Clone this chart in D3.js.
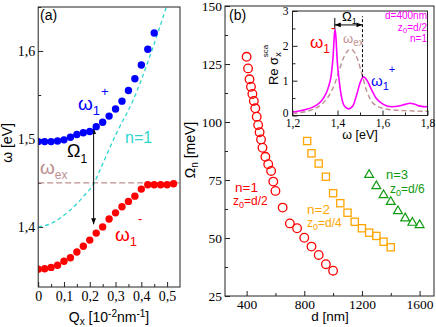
<!DOCTYPE html>
<html>
<head>
<meta charset="utf-8">
<script src="https://cdn.jsdelivr.net/npm/d3@7"></script>
<style>
body{margin:0;background:#fff;}
text{font-family:"Liberation Sans",Arial,sans-serif;}
.tick text{font-family:"Liberation Serif","Times New Roman",serif;}
</style>
</head>
<body>
<div class="c_chart"></div>
<script>
/* DATA
------------------------------------------------------
*/
// panel (a) : polariton branches
const qPlus = [0,0.025,0.05,0.075,0.1,0.125,0.15,0.175,0.2,0.225,0.25,0.275,0.3,0.325,0.35,0.375,0.4,0.425,0.45];
const omegaPlus = [1.497,1.497,1.497,1.4976,1.499,1.502,1.505,1.507,1.5085,1.514,1.519,1.526,1.534,1.543,1.555,1.5685,1.584,1.602,1.6205];
const qMinus = [0,0.025,0.05,0.075,0.1,0.125,0.15,0.175,0.2,0.225,0.25,0.275,0.3,0.325,0.35,0.375,0.4,0.425,0.45,0.475,0.5,0.525];
const omegaMinus = [1.352,1.3525,1.354,1.3565,1.361,1.365,1.3715,1.378,1.385,1.393,1.4,1.409,1.416,1.423,1.429,1.435,1.443,1.448,1.448,1.448,1.448,1.449];
// bare n=1 mode
const qBare = [0,0.046,0.11,0.175,0.217,0.24,0.304,0.369,0.433,0.497];
const omegaBare = [1.4,1.4034,1.4156,1.4345,1.45,1.465,1.5067,1.5446,1.5939,1.65];
const omegaEx = 1.45;
const splitQ = 0.215, splitTop = 1.5125, splitBottom = 1.403;

// panel (b) : Rabi splitting vs thickness
const dN1 = [400,410,420,430,440,450,460,470,480,490,500,510,530,550,570,585,600,650,700,750,800,850,900,950,1000];
const rabiN1 = [128.1,123.1,118.4,115.2,112.1,109.1,105.9,102.3,98.7,95.6,92.5,88.9,85.0,81.8,78.9,74.3,70.3,63.1,56.3,54.2,50.1,46.3,42.7,38.7,35.9];
const dN2 = [820,850,900,950,1000,1050,1100,1150,1200,1250,1300,1350,1400];
const rabiN2 = [91.8,86.5,82.1,76.4,69.3,65.0,60.9,57.0,54.2,52.3,50.9,48.4,46.0];
const dN3 = [1250,1300,1350,1400,1450,1500,1550,1600];
const rabiN3 = [77.2,72.4,68.5,65.6,61.6,58.5,56.6,55.6];

// inset : Re sigma spectrum
const wSpec = [1.2,1.23,1.263,1.29,1.31,1.337,1.359,1.372,1.38,1.386,1.389,1.393,1.399,1.408,1.419,1.433,1.45,1.468,1.485,1.5,1.515,1.532,1.552,1.574,1.604,1.641,1.678,1.7,1.722,1.744,1.767,1.8];
const sigmaSpec = [0.10,0.13,0.18,0.24,0.31,0.49,0.80,1.16,1.65,2.30,2.47,2.25,1.55,0.97,0.49,0.25,0.19,0.27,0.59,0.93,1.11,1.00,0.73,0.48,0.32,0.25,0.28,0.32,0.35,0.32,0.27,0.25];
const wEx = [1.2,1.25,1.3,1.33,1.36,1.39,1.41,1.43,1.45,1.46,1.47,1.49,1.51,1.53,1.55,1.58,1.62,1.7,1.8];
const sigmaEx = [0.06,0.10,0.20,0.32,0.55,0.95,1.35,1.70,1.88,1.90,1.86,1.60,1.15,0.70,0.42,0.26,0.18,0.14,0.12];
const peakMinus = 1.388, peakPlus = 1.511;

// ticks
const ticksAy = [1.4,1.5,1.6], minorAy = [1.35,1.45,1.55,1.65];
const ticksAx = [0,0.1,0.2,0.3,0.4,0.5], minorAx = [0.05,0.15,0.25,0.35,0.45];
const ticksBy = [25,50,75,100,125,150], minorBy = [37.5,62.5,87.5,112.5,137.5];
const ticksBx = [400,800,1200,1600], minorBx = [600,1000,1400];
const ticksIx = [1.2,1.4,1.6,1.8], minorIx = [1.3,1.5,1.7];
const ticksIy = [0,1,2,3], minorIy = [0.5,1.5,2.5];

/* SVG
------------------------------------------------------
*/
const width = 436, height = 327;
const svg = d3.select(".c_chart").append("svg")
	.attr("width", width).attr("height", height)
	.style("display","block");

const locale = d3.formatLocale({decimal:",", thousands:"", grouping:[3], currency:["",""]});
const fmt1 = locale.format(".1f");
const commaFmt = d => d === 0 ? "0" : fmt1(d);

const red = "#ff0000", blue = "#0000ff", cyan = "#2fd6d0", rosy = "#bc8f8f",
	orange = "#ffa500", green = "#109a10", magenta = "#ff00ff";

// arrow heads
const defs = svg.append("defs");
defs.append("marker").attr("id","ah")
	.attr("viewBox","0 0 10 10").attr("refX",10).attr("refY",5)
	.attr("markerWidth",6).attr("markerHeight",6).attr("orient","auto-start-reverse")
	.attr("markerUnits","userSpaceOnUse")
	.append("path").attr("d","M0,1 L10,5 L0,9 Z").attr("fill","#000");

// rich text : parts [text, size, offset(+ down), dx]
function rich(g, x, y, parts, color, anchor){
	const t = g.append("text").attr("x",x).attr("y",y).attr("fill",color || "#000")
		.attr("text-anchor", anchor || "start");
	let cur = 0;
	parts.forEach(p => {
		const ts = t.append("tspan").text(p[0]).attr("font-size", p[1]).attr("dy", (p[2]||0) - cur);
		if (p[3]) ts.attr("dx", p[3]);
		cur = p[2]||0;
	});
	return t;
}

function axes(g, xs, ys, xt, xm, yt, ym, xf, yf, fs, padX, padY){
	const h = ys.range()[0];
	g.append("g").attr("class","xax").attr("transform",`translate(0,${h})`)
		.call(d3.axisBottom(xs).tickValues(xt).tickSize(-5).tickPadding(padX).tickFormat(xf));
	g.append("g").attr("transform",`translate(0,${h})`)
		.call(d3.axisBottom(xs).tickValues(xm).tickSize(-3).tickFormat(""));
	g.append("g").attr("class","yax").attr("transform",`translate(${xs.range()[0]},0)`)
		.call(d3.axisLeft(ys).tickValues(yt).tickSize(-5).tickPadding(padY).tickFormat(yf));
	g.append("g").attr("transform",`translate(${xs.range()[0]},0)`)
		.call(d3.axisLeft(ys).tickValues(ym).tickSize(-3).tickFormat(""));
	g.selectAll(".domain").remove();
	g.selectAll(".tick line").attr("stroke","#222");
	g.selectAll(".tick text").attr("font-size", fs).attr("fill","#000");
}

function frame(g, xs, ys){
	g.append("rect")
		.attr("x", xs.range()[0]).attr("y", ys.range()[1])
		.attr("width", xs.range()[1]-xs.range()[0]).attr("height", ys.range()[0]-ys.range()[1])
		.attr("fill","none").attr("stroke","#222").attr("stroke-width",1);
}

/* PANEL (a)
------------------------------------------------------
*/
const xA = d3.scaleLinear().domain([0,0.55]).range([38.2,180]);
const yA = d3.scaleLinear().domain([1.3317,1.65]).range([287,7]);
const gA = svg.append("g");

defs.append("clipPath").attr("id","clipA").append("rect")
	.attr("x",38.2).attr("y",7).attr("width",180-38.2).attr("height",280);

axes(gA, xA, yA, ticksAx, minorAx, ticksAy, minorAy, commaFmt, commaFmt, 14, 4, 3);

const plotA = gA.append("g").attr("clip-path","url(#clipA)");
plotA.append("line")
	.attr("x1", xA(0)).attr("x2", xA(0.55))
	.attr("y1", yA(omegaEx)).attr("y2", yA(omegaEx))
	.attr("stroke", rosy).attr("stroke-width",1.2).attr("stroke-dasharray","6,3");

plotA.append("path")
	.datum(qBare.map((q,i) => [q, omegaBare[i]]))
	.attr("d", d3.line().x(d => xA(d[0])).y(d => yA(d[1])).curve(d3.curveMonotoneX))
	.attr("fill","none").attr("stroke",cyan).attr("stroke-width",1.3).attr("stroke-dasharray","4,3");

plotA.append("line")
	.attr("x1", xA(splitQ)).attr("x2", xA(splitQ))
	.attr("y1", yA(splitBottom)).attr("y2", yA(splitTop))
	.attr("stroke","#000").attr("stroke-width",1)
	.attr("marker-start","url(#ah)").attr("marker-end","url(#ah)");

plotA.selectAll(".plus").data(qPlus).enter().append("circle")
	.attr("class","plus")
	.attr("cx", d => xA(d)).attr("cy", (d,i) => yA(omegaPlus[i])).attr("r",3.7)
	.attr("fill", blue);
plotA.selectAll(".minus").data(qMinus).enter().append("circle")
	.attr("class","minus")
	.attr("cx", d => xA(d)).attr("cy", (d,i) => yA(omegaMinus[i])).attr("r",3.7)
	.attr("fill", red);

frame(gA, xA, yA);

gA.append("text").attr("x",40).attr("y",20).attr("font-size",14).text("(a)");
rich(gA, 78, 110, [["ω",19,0],["1",13,5],["+",13,-14,1]], blue);
gA.append("text").attr("x",125).attr("y",143).attr("font-size",16).attr("fill",cyan).text("n=1");
rich(gA, 67, 157, [["Ω",18,0],["1",12,6]], "#000");
rich(gA, 40, 174, [["ω",19,0],["ex",12,5]], rosy);
rich(gA, 115, 241, [["ω",19,0],["1",13,5],["-",13,-18,1]], red);

// axis labels (a)
rich(svg, 109, 322, [["Q",14,0],["x",10,3],[" [10",14,0],["-2",10,-5],["nm",14,0],["-1",10,-5],["]",14,0]], "#000", "middle");
svg.append("text").attr("transform","translate(12,143) rotate(-90)")
	.attr("text-anchor","middle").attr("font-size",14).text("ω [eV]");

/* PANEL (b)
------------------------------------------------------
*/
const xB = d3.scaleLinear().domain([250,1700]).range([225,434]);
const yB = d3.scaleLinear().domain([25,150]).range([296,6]);
const gB = svg.append("g");

axes(gB, xB, yB, ticksBx, minorBx, ticksBy, minorBy, d3.format("d"), d3.format("d"), 13.5, 3, 3);

gB.selectAll(".n1").data(dN1).enter().append("circle")
	.attr("class","n1")
	.attr("cx", d => xB(d)).attr("cy", (d,i) => yB(rabiN1[i])).attr("r",4.3)
	.attr("fill","none").attr("stroke",red).attr("stroke-width",1.3);

gB.selectAll(".n2").data(dN2).enter().append("rect")
	.attr("class","n2")
	.attr("x", d => xB(d)-3.6).attr("y", (d,i) => yB(rabiN2[i])-3.6)
	.attr("width",7.2).attr("height",7.2)
	.attr("fill","none").attr("stroke",orange).attr("stroke-width",1.3);

const tri = d3.symbol().type(d3.symbolTriangle).size(34);
gB.selectAll(".n3").data(dN3).enter().append("path")
	.attr("class","n3")
	.attr("transform", (d,i) => `translate(${xB(d)},${yB(rabiN3[i])})`)
	.attr("d", tri)
	.attr("fill","none").attr("stroke",green).attr("stroke-width",1.2);

frame(gB, xB, yB);

gB.append("text").attr("x",229).attr("y",20).attr("font-size",14).text("(b)");
gB.append("text").attr("x",235).attr("y",192).attr("font-size",13.5).attr("fill",red).text("n=1");
rich(gB, 233, 205, [["z",12,0],["0",9,3],["=d/2",12,0]], red);
gB.append("text").attr("x",307).attr("y",214).attr("font-size",13.5).attr("fill",orange).text("n=2");
rich(gB, 307, 227, [["z",12,0],["0",9,3],["=d/4",12,0]], orange);
gB.append("text").attr("x",386).attr("y",179).attr("font-size",13).attr("fill",green).text("n=3");
rich(gB, 390, 193, [["z",12,0],["0",9,3],["=d/6",12,0]], green);

svg.append("text").attr("x",330).attr("y",321).attr("text-anchor","middle").attr("font-size",13.5).text("d [nm]");
rich(svg, 0, 0, [["Ω",14,0],["n",10,3],[" [meV]",14,0]], "#000", "middle")
	.attr("transform","translate(195,150) rotate(-90)");

/* INSET
------------------------------------------------------
*/
const xI = d3.scaleLinear().domain([1.2,1.8]).range([292.5,427.5]);
const yI = d3.scaleLinear().domain([0,3]).range([115.5,11]);
const gI = svg.append("g");

gI.append("rect").attr("x",292.5).attr("y",11).attr("width",135).attr("height",104.5).attr("fill","#fff");
axes(gI, xI, yI, ticksIx, minorIx, ticksIy, minorIy, commaFmt, d3.format("d"), 11.5, 3, 4);
// keep the "0" clear of the "1,2" below it
gI.selectAll(".yax .tick text").filter(d => d === 0).attr("dy","0.05em");

const lineI = d3.line().x(d => xI(d[0])).y(d => yI(d[1])).curve(d3.curveMonotoneX);
gI.append("path")
	.datum(wEx.map((w,i) => [w, sigmaEx[i]]))
	.attr("d", lineI)
	.attr("fill","none").attr("stroke",rosy).attr("stroke-width",1.4).attr("stroke-dasharray","5,3");
gI.append("path")
	.datum(wSpec.map((w,i) => [w, sigmaSpec[i]]))
	.attr("d", lineI)
	.attr("fill","none").attr("stroke",magenta).attr("stroke-width",1.6);

// splitting markers
gI.append("line")
	.attr("x1", xI(peakMinus)).attr("x2", xI(peakMinus))
	.attr("y1", yI(2.47)).attr("y2", yI(2.8))
	.attr("stroke","#000").attr("stroke-width",1);
gI.append("line")
	.attr("x1", xI(peakPlus)).attr("x2", xI(peakPlus))
	.attr("y1", yI(1.1)).attr("y2", yI(2.85))
	.attr("stroke","#000").attr("stroke-width",1).attr("stroke-dasharray","3,2");
gI.append("line")
	.attr("x1", xI(peakMinus)).attr("x2", xI(peakPlus))
	.attr("y1", yI(2.6)).attr("y2", yI(2.6))
	.attr("stroke","#000").attr("stroke-width",1)
	.attr("marker-start","url(#ah)").attr("marker-end","url(#ah)");

frame(gI, xI, yI);

rich(gI, 342, 21, [["Ω",13,0],["1",9,3]], "#000");
rich(gI, 310, 48, [["ω",17,0],["1",12,5],["-",12,-16,1]], red);
rich(gI, 343, 43, [["ω",13,0],["ex",10,3]], rosy);
rich(gI, 371, 86, [["ω",15,0],["1",11,4],["+",11,-13]], blue);
gI.append("text").attr("x",427).attr("y",19).attr("text-anchor","end").attr("font-size",10).attr("fill",magenta).text("d=400nm");
rich(gI, 427, 31, [["z",10,0],["0",8,2],["=d/2",10,0]], magenta, "end");
gI.append("text").attr("x",427).attr("y",42).attr("text-anchor","end").attr("font-size",10).attr("fill",magenta).text("n=1");

svg.append("text").attr("x",360).attr("y",139).attr("text-anchor","middle").attr("font-size",12.5).text("ω [eV]");
rich(svg, 0, 0, [["Re σ",13,0],["x",9,3],["sca",8,-10,-5]], "#000", "middle")
	.attr("transform","translate(278,65) rotate(-90)");
</script>
</body>
</html>
